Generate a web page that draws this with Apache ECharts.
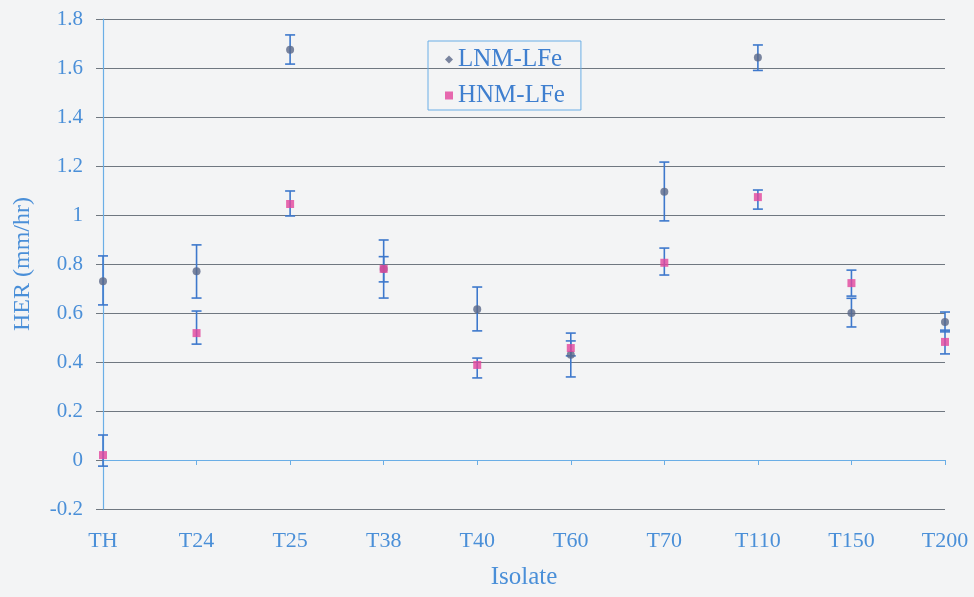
<!DOCTYPE html>
<html>
<head>
<meta charset="utf-8">
<script src="https://cdn.jsdelivr.net/npm/echarts@6/dist/echarts.min.js"></script>
<style>html,body{margin:0;padding:0;background:#f3f4f5;}#c{width:974px;height:597px;}</style>
</head>
<body>
<div id="c"></div>
<script>
const categories = ['TH','T24','T25','T38','T40','T60','T70','T110','T150','T200'];
const lnm     = [0.73, 0.77, 1.675, 0.78, 0.615, 0.43, 1.095, 1.643, 0.60, 0.563];
const lnmLow  = [0.633,0.661,1.616,0.661,0.527,0.339,0.976,1.59, 0.543,0.523];
const lnmHigh = [0.833,0.878,1.735,0.898,0.706,0.518,1.216,1.694,0.66, 0.604];
const hnm     = [0.02, 0.518,1.045,0.78, 0.388,0.457,0.805,1.073,0.722,0.482];
const hnmLow  = [-0.025,0.473,0.996,0.727,0.335,0.425,0.755,1.024,0.669,0.433];
const hnmHigh = [0.102,0.608,1.098,0.83, 0.416,0.486,0.865,1.102,0.775,0.53];
const yTicks = {min: -0.2, max: 1.8, interval: 0.2};

const blue = '#4a8fd8';
const barBlue = '#3d78cc';
const font = 'Liberation Serif';

function errData(low, high){ return low.map((l,i)=>[i,l,high[i]]); }
function renderErr(params, api){
  const i = api.value(0);
  const top = api.coord([i, api.value(2)]);
  const bot = api.coord([i, api.value(1)]);
  const w = 5;
  const style = {stroke: barBlue, lineWidth: 1.6};
  return {type:'group', children:[
    {type:'line', shape:{x1:top[0],y1:top[1],x2:bot[0],y2:bot[1]}, style},
    {type:'line', shape:{x1:top[0]-w,y1:top[1],x2:top[0]+w,y2:top[1]}, style},
    {type:'line', shape:{x1:bot[0]-w,y1:bot[1],x2:bot[0]+w,y2:bot[1]}, style}
  ]};
}

const chart = echarts.init(document.getElementById('c'));
chart.setOption({
  backgroundColor: '#f3f4f5',
  animation: false,
  grid: {left: 103, right: 29, top: 19, bottom: 88},
  legend: {
    left: 428, top: 41, orient: 'vertical',
    padding: [6, 16, 2, 17], itemGap: 11,
    borderColor: '#6aaee6', borderWidth: 1,
    itemWidth: 8, itemHeight: 8,
    textStyle: {fontFamily: font, fontSize: 25, color: '#3f7fcf'},
    data: [{name:'LNM-LFe', icon:'diamond', itemStyle:{color:'#5a6888'}},
           {name:'HNM-LFe', icon:'rect', itemStyle:{color:'#e2459c'}}]
  },
  xAxis: [
    {type:'category', data: categories, boundaryGap:false,
     axisLine:{onZero:true, lineStyle:{color:'#6aaee6', width:1.2}},
     axisTick:{show:true, length:5, inside:false, lineStyle:{color:'#6aaee6'}},
     axisLabel:{show:false}, splitLine:{show:false}},
    {type:'category', data: categories, boundaryGap:false, position:'bottom',
     axisLine:{show:false, onZero:false}, axisTick:{show:false},
     axisLabel:{color: blue, fontFamily: font, fontSize: 22, margin: 21},
     name:'Isolate', nameLocation:'middle', nameGap: 56,
     nameTextStyle:{color: blue, fontFamily: font, fontSize: 25}}
  ],
  yAxis: {
    type:'value', min: yTicks.min, max: yTicks.max, interval: yTicks.interval,
    axisLine:{show:true, onZero:false, lineStyle:{color:'#6aaee6', width:1.2}},
    axisTick:{show:true, length:7, lineStyle:{color:'#707880'}},
    axisLabel:{color: blue, fontFamily: font, fontSize: 21, margin: 20},
    splitLine:{show:true, lineStyle:{color:'#6f7780', width:1}},
    name:'HER (mm/hr)', nameLocation:'middle', nameGap: 68, nameRotate: 90,
    nameTextStyle:{color: blue, fontFamily: font, fontSize: 24}
  },
  series: [
    {type:'custom', name:'errL', renderItem: renderErr, data: errData(lnmLow, lnmHigh),
     encode:{x:0, y:[1,2]}, z:2, silent:true},
    {type:'custom', name:'errH', renderItem: renderErr, data: errData(hnmLow, hnmHigh),
     encode:{x:0, y:[1,2]}, z:2, silent:true},
    {type:'scatter', name:'LNM-LFe', data: lnm, symbol:'circle', symbolSize: 8,
     itemStyle:{color:'#5a6888'}, z:3},
    {type:'scatter', name:'HNM-LFe', data: hnm, symbol:'rect', symbolSize: 8,
     itemStyle:{color:'#e2459c'}, z:4}
  ]
});
</script>
</body>
</html>
